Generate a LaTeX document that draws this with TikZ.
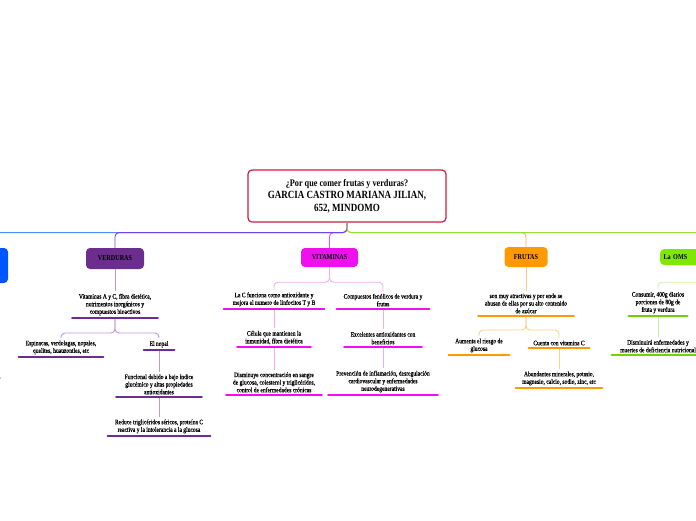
\documentclass[tikz,border=0pt]{standalone}
\usepackage{fontspec}
\setmainfont{Liberation Serif}[FakeStretch=0.82]
\newfontfamily\leaffont{Liberation Serif}[FakeStretch=0.82,RawFeature={embolden=0.8}]
\usetikzlibrary{positioning}
\definecolor{rim}{RGB}{204,30,60}
\definecolor{sky}{RGB}{0,85,255}
\definecolor{skyline}{RGB}{80,140,245}
\definecolor{plum}{RGB}{107,45,142}
\definecolor{plumline}{RGB}{112,68,240}
\definecolor{plumsoft}{RGB}{185,150,235}
\definecolor{fuchsia}{RGB}{238,17,238}
\definecolor{fuchsiasoft}{RGB}{244,170,244}
\definecolor{tangerine}{RGB}{255,153,0}
\definecolor{tangerinesoft}{RGB}{255,205,135}
\definecolor{lime}{RGB}{128,232,0}
\definecolor{limeline}{RGB}{150,224,50}
\definecolor{limesoft}{RGB}{205,240,165}
\tikzset{
  root/.style={draw=rim,line width=1.2pt,fill=white,rounded corners=4pt,
    minimum width=198pt,minimum height=52pt,align=center,font=\fontsize{11}{12.5}\selectfont\bfseries},
  topic/.style={fill=#1,rounded corners=4pt,minimum height=20pt,
    font=\fontsize{7.5}{8}\selectfont\bfseries,text=black},
  topic/.default=plum,
  leaf/.style={align=center,inner xsep=3pt,inner ysep=2.5pt,anchor=south,
    font=\leaffont\fontsize{6.8}{7.6}\selectfont},
  uline/.style={draw=#1,line width=2.6pt,line cap=round},
  link/.style={draw=#1,line width=0.9pt,rounded corners=4pt},
  link/.default=plumsoft,
}
\begin{document}
\begin{tikzpicture}[x=1pt,y=-1pt]
  \useasboundingbox (0,0) rectangle (696,520);
  \node[root] (r) at (347,196) {{\fontsize{10}{12.5}\selectfont ¿Por que comer frutas y verduras?}\\
    GARCIA CASTRO MARIANA JILIAN,\\ 652, MINDOMO};

  \node[topic=sky,minimum width=48pt,minimum height=35pt] (b0) at (-16,265.5) {};
  \node[topic=plum,minimum width=58pt,minimum height=21pt] (v0) at (115,258.5) {VERDURAS};
  \node[topic=fuchsia,minimum width=57pt,minimum height=19pt] (m0) at (329.5,257.5) {VITAMINAS};
  \node[topic=tangerine,minimum width=43pt] (f0) at (526,257) {FRUTAS};
  \node[topic=lime,minimum height=16pt,anchor=west,text width=80pt,align=left] (o0) at (660,257) {La OMS};

  % verduras
  \node[leaf,minimum width=85pt] (v1) at (115,318) {Vitaminas A y C, fibra dietética,\\ nutrimentos inorgánicos y\\ compuestos bioactivos};
  \node[leaf,minimum width=84pt] (v2) at (61,357) {Espinacas, verdolagas, nopales,\\ quelites, huauzontles, etc};
  \node[leaf,minimum width=30pt] (v3) at (159,350) {El nopal};
  \node[leaf,minimum width=85pt] (v4) at (159,397) {Funcional debido a bajo índice\\ glucémico y altas propiedades\\ antioxidantes};
  \node[leaf,minimum width=102pt] (v5) at (159,436) {Reduce triglicéridos séricos, proteína C\\ reactiva y la intolerancia a la glucosa};

  % vitaminas
  \node[leaf,minimum width=100pt] (m1) at (274,309) {La C funciona como antioxidante y\\ mejora el numero de linfocitos T y B};
  \node[leaf,minimum width=92pt] (m2) at (383,309) {Compuestos fenólicos de verdura y\\ frutas};
  \node[leaf,minimum width=73pt] (m3) at (274,347) {Célula que mantienen la\\ inmunidad, fibra dietética};
  \node[leaf,minimum width=95pt] (m4) at (274,395) {Disminuye concentración en sangre\\ de glucosa, colesterol y triglicéridos,\\ control de enfermedades crónicas};
  \node[leaf,minimum width=77pt] (m5) at (383,347) {Excelentes antioxidantes con\\ beneficios};
  \node[leaf,minimum width=109pt] (m6) at (383,395) {Prevención de inflamación, desregulación\\ cardiovascular y enfermedades\\ neurodegenerativas};

  % frutas
  \node[leaf,minimum width=95pt] (f1) at (526,316) {son muy atractivas y por ende se\\ abusan de ellas por su alto contenido\\ de azúcar};
  \node[leaf,minimum width=60pt] (f2) at (479,355) {Aumenta el riesgo de\\ glucosa};
  \node[leaf,minimum width=60pt] (f3) at (559,348) {Cuenta con vitamina C};
  \node[leaf,minimum width=86pt] (f4) at (559,388) {Abundantes minerales, potasio,\\ magnesio, calcio, sodio, zinc, etc};

  % oms
  \node[leaf,minimum width=58pt] (o1) at (658,316) {Consumir, 400g diarios\\ porciones de 80g de\\ fruta y verdura};
  \node[leaf,minimum width=92pt] (o2) at (658,355) {Disminuirá enfermedades y\\ muertes de deficiencia nutricional};

  \draw[link=skyline] (r.south) -- ++(0,10) -| (b0.north);
  \draw[link=tangerine!75] (r.south) -- ++(0,10) -| (f0.north);
  \draw[link=fuchsia!75] (r.south) -- ++(0,10) -| (m0.north);
  \draw[link=plumline] (r.south) -- ++(0,10) -| (v0.north);
  \draw[link=limeline] (r.south) -- ++(0,10) -| (o0.north);

  \draw[link] (v0.south) -- (v1.north);
  \draw[link] (v1.south) -- ++(0,15) -| (v2.north);
  \draw[link] (v1.south) -- ++(0,15) -| (v3.north);
  \draw[link] (v3.south) -- (v4.north);
  \draw[link] (v4.south) -- (v5.north);

  \draw[link=fuchsiasoft] (m0.south) -- ++(0,15) -| (m1.north);
  \draw[link=fuchsiasoft] (m0.south) -- ++(0,15) -| (m2.north);
  \draw[link=fuchsiasoft] (m1.south) -- (m3.north);
  \draw[link=fuchsiasoft] (m3.south) -- (m4.north);
  \draw[link=fuchsiasoft] (m2.south) -- (m5.north);
  \draw[link=fuchsiasoft] (m5.south) -- (m6.north);

  \draw[link=tangerinesoft] (f0.south) -- (f1.north);
  \draw[link=tangerinesoft] (f1.south) -- ++(0,14) -| (f2.north);
  \draw[link=tangerinesoft] (f1.south) -- ++(0,14) -| (f3.north);
  \draw[link=tangerinesoft] (f3.south) -- (f4.north);

  \draw[link=limesoft] (o0.south) -- ++(0,17) -| (o1.north);
  \draw[link=limesoft] (o1.south) -- (o2.north);

  \foreach \n in {v1,v2,v3,v4,v5} \draw[uline=plum] (\n.south west) -- (\n.south east);
  \foreach \n in {m1,m2,m3,m4,m5,m6} \draw[uline=fuchsia] (\n.south west) -- (\n.south east);
  \foreach \n in {f1,f2,f3,f4} \draw[uline=tangerine] (\n.south west) -- (\n.south east);
  \foreach \n in {o1,o2} \draw[uline=lime!90!black] (\n.south west) -- (\n.south east);
  \draw[uline=sky] (-20,378) -- (-0.5,378);
\end{tikzpicture}
\end{document}
